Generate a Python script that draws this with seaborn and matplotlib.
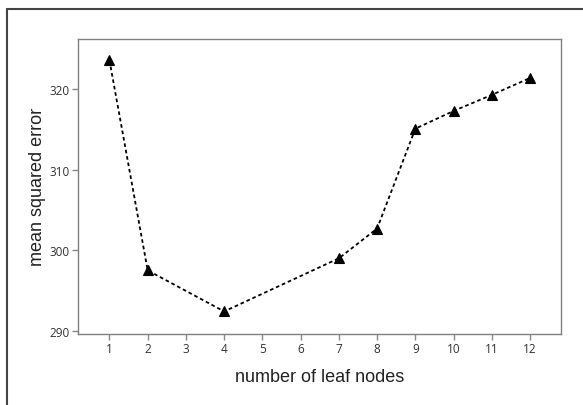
import matplotlib
matplotlib.use("Agg")
import matplotlib.pyplot as plt
import seaborn as sns
import pandas as pd
from matplotlib.lines import Line2D

leaf_nodes = [1, 2, 4, 7, 8, 9, 10, 11, 12]
mse = [323.6, 297.5, 292.4, 299.0, 302.7, 315.1, 317.3, 319.3, 321.4]
x_ticks = list(range(1, 13))
y_ticks = [290, 300, 310, 320]

df = pd.DataFrame({"leaf": leaf_nodes, "mse": mse})

sns.set_style("white")
plt.rcParams['font.family'] = ['Liberation Sans', 'DejaVu Sans']

fig = plt.figure(figsize=(5.83, 4.06), dpi=100)
ax = fig.add_axes([0.1333, 0.1749, 0.9617 - 0.1333, 0.9027 - 0.1749])

sns.lineplot(data=df, x="leaf", y="mse", ax=ax, color="black",
             marker="^", markersize=7, markeredgecolor="black", markeredgewidth=0.8,
             linestyle=(0, (2, 1.6)), linewidth=1.3)

ax.set_xlim(0.17, 12.8)
ax.set_ylim(289.6, 326.3)
ax.set_xticks(x_ticks)
ax.set_yticks(y_ticks)
ax.set_xticklabels([str(t) for t in x_ticks], fontfamily="Open Sans", fontsize=8.5, color="#333333")
ax.set_yticklabels([str(t) for t in y_ticks], fontfamily="Open Sans", fontsize=8.5, color="#333333")
ax.tick_params(axis="both", direction="out", length=4, width=1, color="#888888", pad=2,
               bottom=True, left=True)
for s in ax.spines.values():
    s.set_color("#808080")
    s.set_linewidth(1.0)
ax.set_xlabel("number of leaf nodes", fontsize=13, color="#222222", labelpad=9)
ax.set_ylabel("mean squared error", fontsize=13, color="#222222", labelpad=2)

# figure frame (left and top edges)
fig.add_artist(Line2D([7/583, 7/583], [0, 1 - 10/406], transform=fig.transFigure, color="#444444", lw=1.5))
fig.add_artist(Line2D([7/583, 1], [1 - 10/406, 1 - 10/406], transform=fig.transFigure, color="#444444", lw=1.5))

fig.savefig("out.png", dpi=100)
